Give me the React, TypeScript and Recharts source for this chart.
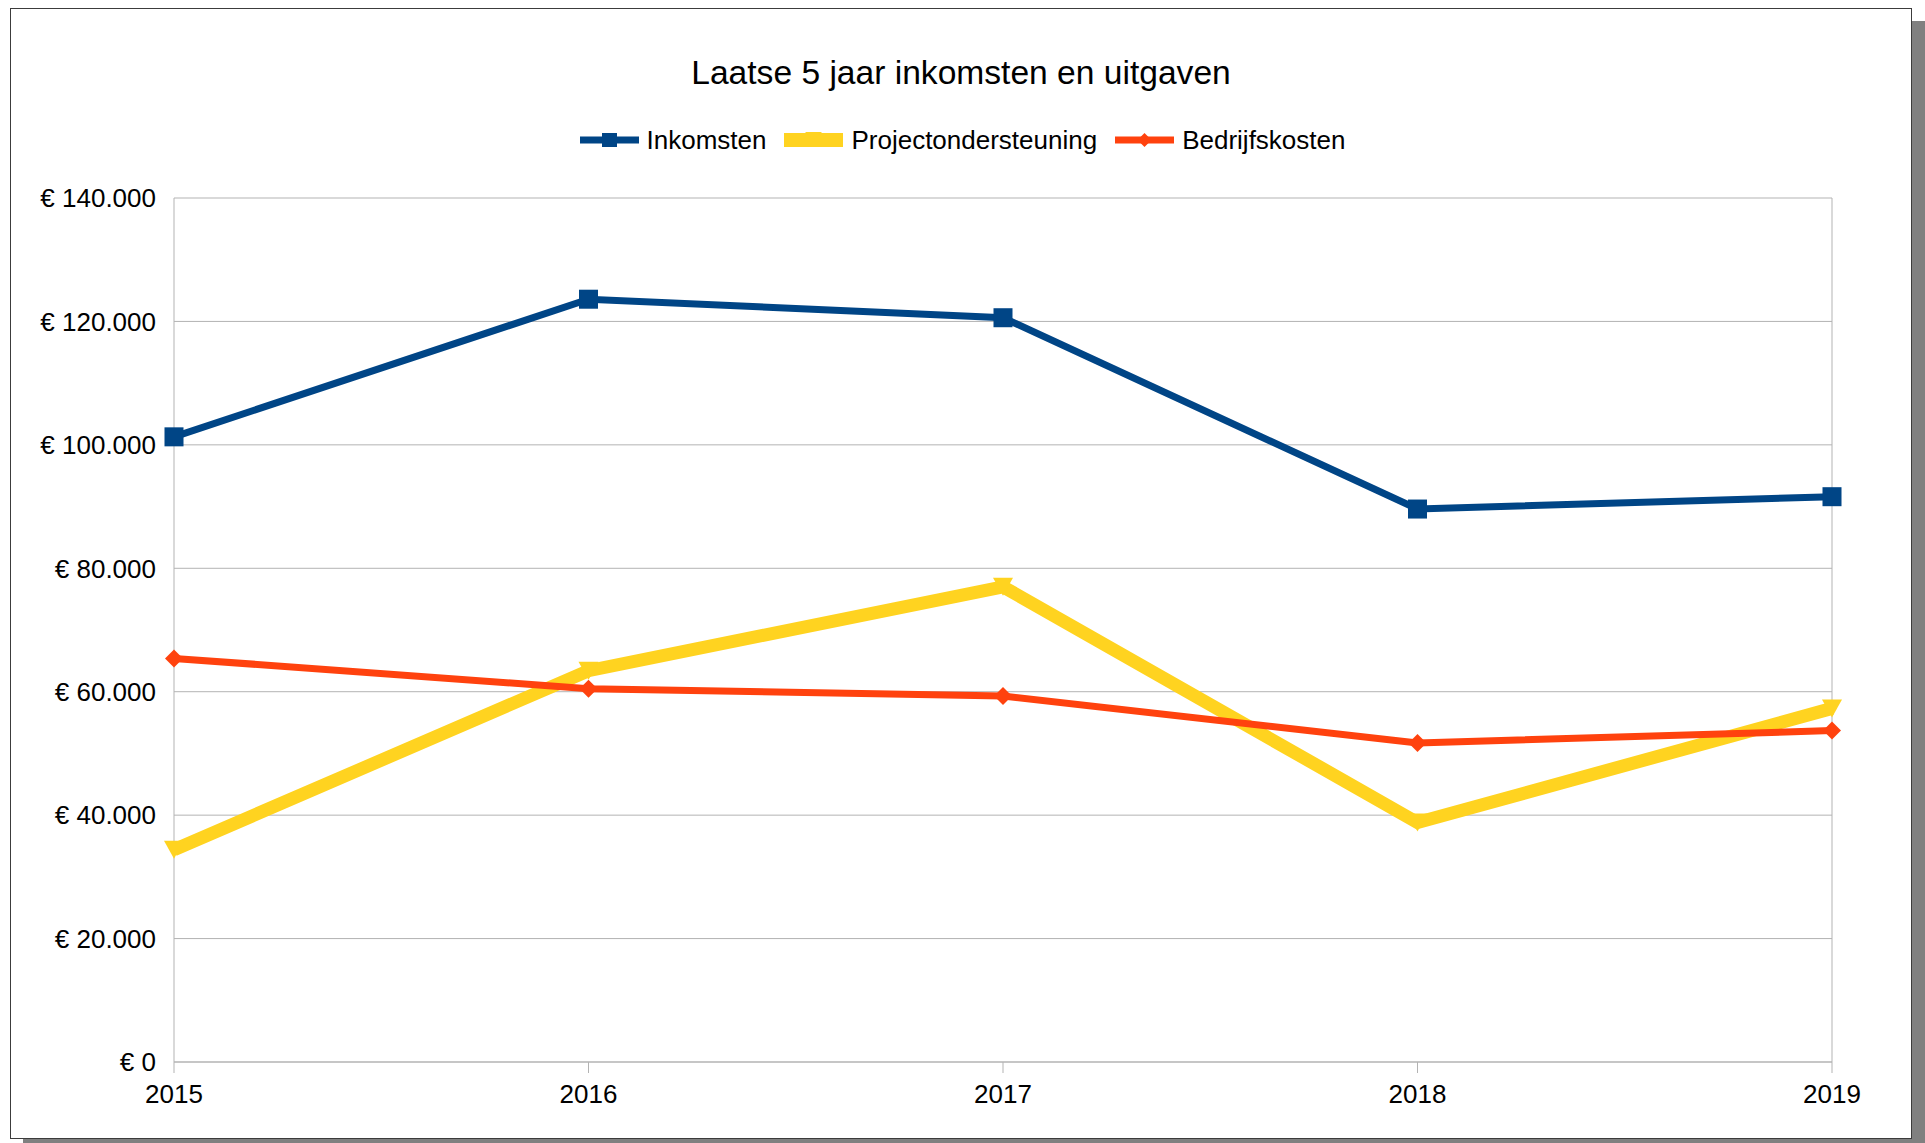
import React from "react";
import { LineChart, Line, XAxis, YAxis, CartesianGrid, Legend, ReferenceLine } from "recharts";

// Jaren en reeksen
const jaren = ["2015", "2016", "2017", "2018", "2019"];
const inkomsten = [101300, 123600, 120600, 89600, 91600];
const projectondersteuning = [34400, 63400, 77000, 38800, 57300];
const bedrijfskosten = [65400, 60500, 59300, 51700, 53700];
const yTicks = [0, 20000, 40000, 60000, 80000, 100000, 120000, 140000];
const reeksen = ["Inkomsten", "Projectondersteuning", "Bedrijfskosten"];

const titel = "Laatse 5 jaar inkomsten en uitgaven";
const font = "'Liberation Sans', Arial, sans-serif";

const kleuren: Record<string, string> = {
  Inkomsten: "#004586",
  Projectondersteuning: "#ffd320",
  Bedrijfskosten: "#ff420e",
};

const data = jaren.map((jaar, i) => ({
  jaar,
  Inkomsten: inkomsten[i],
  Projectondersteuning: projectondersteuning[i],
  Bedrijfskosten: bedrijfskosten[i],
}));

const formatEuro = (v: number) =>
  "€ " + String(v).replace(/\B(?=(\d{3})+(?!\d))/g, ".");

// markers
const Vierkant = (props: any) => {
  const { cx, cy, index } = props;
  if (cx == null || cy == null) return <g key={"sq" + index} />;
  return <rect key={"sq" + index} x={cx - 9.5} y={cy - 9.5} width={19} height={19} fill={kleuren.Inkomsten} />;
};

const Driehoek = (props: any) => {
  const { cx, cy, index } = props;
  if (cx == null || cy == null) return <g key={"tr" + index} />;
  return (
    <polygon
      key={"tr" + index}
      points={`${cx - 10},${cy - 9} ${cx + 10},${cy - 9} ${cx},${cy + 9}`}
      fill={kleuren.Projectondersteuning}
    />
  );
};

const Ruit = (props: any) => {
  const { cx, cy, index } = props;
  if (cx == null || cy == null) return <g key={"ru" + index} />;
  return (
    <polygon
      key={"ru" + index}
      points={`${cx},${cy - 9} ${cx + 9},${cy} ${cx},${cy + 9} ${cx - 9},${cy}`}
      fill={kleuren.Bedrijfskosten}
    />
  );
};

const LegendIcoon = ({ naam }: { naam: string }) => {
  const kleur = kleuren[naam];
  return (
    <svg width={59} height={20} style={{ display: "block" }}>
      {naam === "Inkomsten" && (
        <>
          <rect x={0} y={6.5} width={59} height={7} fill={kleur} />
          <rect x={22} y={3} width={15} height={14} fill={kleur} />
        </>
      )}
      {naam === "Projectondersteuning" && (
        <>
          <rect x={0} y={3} width={59} height={14} fill={kleur} />
          <polygon points="21,2 38,2 29.5,10" fill={kleur} />
        </>
      )}
      {naam === "Bedrijfskosten" && (
        <>
          <rect x={0} y={6.5} width={59} height={7} fill={kleur} />
          <polygon points="29.5,3 36.5,10 29.5,17 22.5,10" fill={kleur} />
        </>
      )}
    </svg>
  );
};

// legenda in de volgorde van de reeksen
const renderLegend = () => (
  <div style={{ display: "flex", justifyContent: "center", alignItems: "center", fontFamily: font, fontSize: 26, color: "#000" }}>
    {reeksen.map((naam, i) => (
      <div key={naam} style={{ display: "flex", alignItems: "center", marginLeft: i === 0 ? 0 : 18 }}>
        <LegendIcoon naam={naam} />
        <span style={{ marginLeft: 8, lineHeight: "30px" }}>{naam}</span>
      </div>
    ))}
  </div>
);

export default function App() {
  return (
    <div style={{ position: "absolute", left: 0, top: 0, width: 1925, height: 1143, background: "#fff", overflow: "hidden" }}>
      <div
        style={{
          position: "absolute",
          left: 10,
          top: 8,
          width: 1902,
          height: 1131,
          boxSizing: "border-box",
          border: "1px solid #3c3c3c",
          background: "#fff",
          boxShadow: "13px 13px 0 #808080",
        }}
      />
      <div
        style={{
          position: "absolute",
          left: 10,
          top: 56,
          width: 1902,
          textAlign: "center",
          fontFamily: font,
          fontSize: 33.6,
          lineHeight: "34px",
          color: "#000",
        }}
      >
        {titel}
      </div>
      <div style={{ position: "absolute", left: 0, top: 0 }}>
        <LineChart width={1925} height={1143} data={data} margin={{ top: 198, right: 93, bottom: 31, left: 24 }}>
          <CartesianGrid stroke="#b3b3b3" vertical={false} />
          <XAxis
            dataKey="jaar"
            height={50}
            stroke="#b3b3b3"
            tickSize={11}
            tickMargin={12}
            tick={{ fill: "#000", fontSize: 26, fontFamily: font }}
            interval={0}
          />
          <YAxis
            width={150}
            domain={[0, 140000]}
            ticks={yTicks}
            tickFormatter={formatEuro}
            stroke="#b3b3b3"
            tickLine={false}
            tickSize={0}
            tickMargin={18}
            tick={{ fill: "#000", fontSize: 26, fontFamily: font }}
          />
          <ReferenceLine x="2019" stroke="#b3b3b3" />
          <Legend
            verticalAlign="middle"
            align="center"
            content={renderLegend}
            wrapperStyle={{ top: 125, left: 0, width: 1925 }}
          />
          <Line
            dataKey="Inkomsten"
            stroke={kleuren.Inkomsten}
            strokeWidth={7}
            dot={Vierkant}
            activeDot={false}
            isAnimationActive={false}
          />
          <Line
            dataKey="Projectondersteuning"
            stroke={kleuren.Projectondersteuning}
            strokeWidth={13}
            dot={Driehoek}
            activeDot={false}
            isAnimationActive={false}
          />
          <Line
            dataKey="Bedrijfskosten"
            stroke={kleuren.Bedrijfskosten}
            strokeWidth={7}
            dot={Ruit}
            activeDot={false}
            isAnimationActive={false}
          />
        </LineChart>
      </div>
    </div>
  );
}
